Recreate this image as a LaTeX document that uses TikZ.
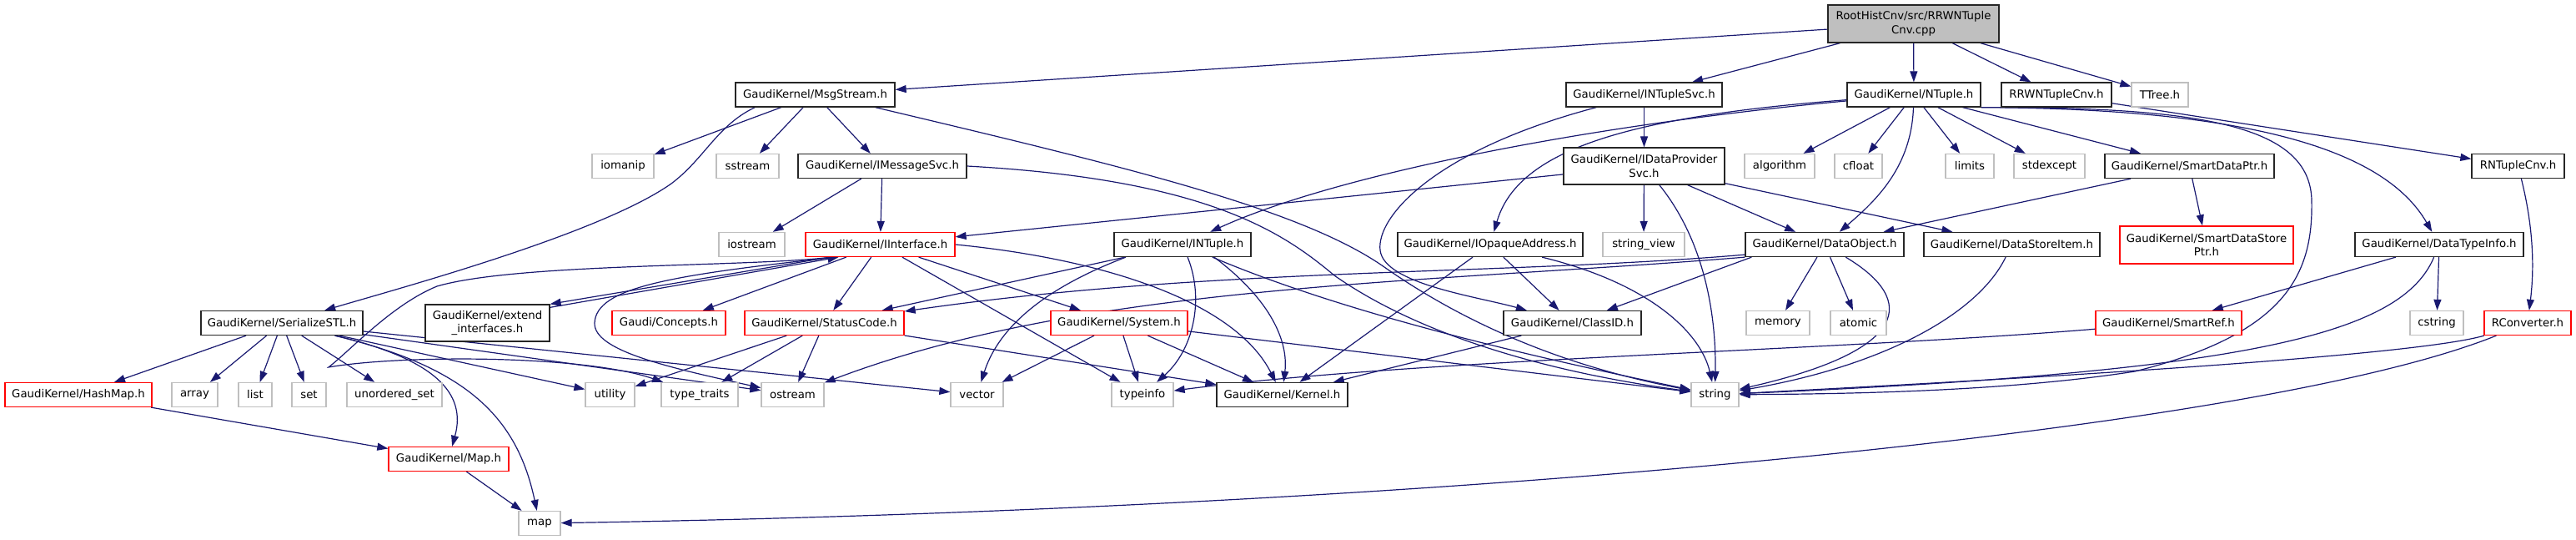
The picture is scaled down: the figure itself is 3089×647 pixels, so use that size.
\documentclass[tikz,border=0pt]{standalone}
\usepackage{fontspec}
\setmainfont{DejaVu Sans}
\usetikzlibrary{arrows.meta}
\definecolor{edgeblue}{HTML}{191970}
\definecolor{sysgray}{HTML}{BFBFBF}
\definecolor{truncred}{HTML}{FF0000}
\pgfdeclarelayer{bg}
\pgfsetlayers{bg,main}
\tikzset{
  nd/.style={draw, rectangle, fill=white, inner xsep=2pt, inner ysep=0pt,
    minimum height=29pt, align=center, line width=1.3pt,
    font=\fontsize{13.3}{16.6}\selectfont},
  doc/.style={nd, draw=black!85},
  sys/.style={nd, draw=sysgray},
  trunc/.style={nd, draw=truncred},
  rootnd/.style={nd, draw=black!85, fill=sysgray},
  dep/.style={draw=edgeblue, line width=1.2pt, -{Triangle[length=13pt,width=9pt]}},
}
\begin{document}
\begin{tikzpicture}[x=1pt,y=-1pt]
\useasboundingbox (0,0) rectangle (3089,647);
% row 0
\node[rootnd, minimum width=205pt, minimum height=45pt] (root) at (2294.5,28.5) {RootHistCnv/src/RRWNTuple\\Cnv.cpp};
% row 1
\node[doc, minimum width=191pt] (msgstream) at (977.5,113.5) {GaudiKernel/MsgStream.h};
\node[doc, minimum width=187pt] (ntuplesvc) at (1971.5,113.5) {GaudiKernel/INTupleSvc.h};
\node[doc, minimum width=160pt] (ntuple) at (2295,113.5) {GaudiKernel/NTuple.h};
\node[doc, minimum width=132pt] (rrwcnv) at (2466,113.5) {RRWNTupleCnv.h};
\node[sys, minimum width=68pt] (ttree) at (2590,113.5) {TTree.h};
% row 2
\node[sys, minimum width=74pt] (iomanip) at (747,199) {iomanip};
\node[sys, minimum width=75pt] (sstream) at (896.5,199) {sstream};
\node[doc, minimum width=202pt] (imsgsvc) at (1058,199) {GaudiKernel/IMessageSvc.h};
\node[doc, minimum width=193pt, minimum height=44pt] (idpsvc) at (1971.5,199) {GaudiKernel/IDataProvider\\Svc.h};
\node[sys, minimum width=84pt] (algorithm) at (2134,199) {algorithm};
\node[sys, minimum width=57pt] (cfloat) at (2228.5,199) {cfloat};
\node[sys, minimum width=58pt] (limits) at (2362,199) {limits};
\node[sys, minimum width=85pt] (stdexcept) at (2457.5,199) {stdexcept};
\node[doc, minimum width=203pt] (smartdataptr) at (2625.5,199) {GaudiKernel/SmartDataPtr.h};
\node[doc, minimum width=111pt] (rntuplecnv) at (3019.5,199) {RNTupleCnv.h};
% row 3
\node[sys, minimum width=79pt] (iostream) at (901.5,293) {iostream};
\node[trunc, minimum width=179pt] (iinterface) at (1055.5,293) {GaudiKernel/IInterface.h};
\node[doc, minimum width=164pt] (intuple) at (1418,293) {GaudiKernel/INTuple.h};
\node[doc, minimum width=222pt] (iopaque) at (1787,293) {GaudiKernel/IOpaqueAddress.h};
\node[sys, minimum width=98pt] (stringview) at (1971,293) {string\_view};
\node[doc, minimum width=190pt] (dataobject) at (2188,293) {GaudiKernel/DataObject.h};
\node[doc, minimum width=211pt] (datastoreitem) at (2412.5,293) {GaudiKernel/DataStoreItem.h};
\node[trunc, minimum width=208pt, minimum height=45pt] (smartdatastoreptr) at (2646,293.5) {GaudiKernel/SmartDataStore\\Ptr.h};
\node[doc, minimum width=202pt] (datatypeinfo) at (2925,293) {GaudiKernel/DataTypeInfo.h};
% row 4
\node[doc, minimum width=194pt] (serializestl) at (338,387) {GaudiKernel/SerializeSTL.h};
\node[doc, minimum width=149pt, minimum height=44pt] (extendif) at (584.5,387) {GaudiKernel/extend\\\_interfaces.h};
\node[trunc, minimum width=136pt] (concepts) at (802,387) {Gaudi/Concepts.h};
\node[trunc, minimum width=191pt] (statuscode) at (988.5,387) {GaudiKernel/StatusCode.h};
\node[trunc, minimum width=164pt] (system) at (1342,387) {GaudiKernel/System.h};
\node[doc, minimum width=165pt] (classid) at (1885.5,387) {GaudiKernel/ClassID.h};
\node[sys, minimum width=76pt] (memory) at (2132,387) {memory};
\node[sys, minimum width=67pt] (atomic) at (2228.5,387) {atomic};
\node[trunc, minimum width=175pt] (smartref) at (2600.5,387) {GaudiKernel/SmartRef.h};
\node[sys, minimum width=64pt] (cstring) at (2922,387) {cstring};
\node[trunc, minimum width=104pt] (rconverter) at (3031,387) {RConverter.h};
% row 5
\node[trunc, minimum width=176pt] (hashmap) at (94,473) {GaudiKernel/HashMap.h};
\node[sys, minimum width=55pt] (array) at (233.5,473) {array};
\node[sys, minimum width=40pt] (list) at (306,473) {list};
\node[sys, minimum width=41pt] (set) at (370.5,473) {set};
\node[sys, minimum width=114pt] (unorderedset) at (473,473) {unordered\_set};
\node[sys, minimum width=59pt] (utility) at (731.5,473) {utility};
\node[sys, minimum width=92pt] (typetraits) at (839,473) {type\_traits};
\node[sys, minimum width=75pt] (ostream) at (950.5,473) {ostream};
\node[sys, minimum width=63pt] (vector) at (1171.5,473) {vector};
\node[sys, minimum width=74pt] (typeinfo) at (1370,473) {typeinfo};
\node[doc, minimum width=157pt] (kernel) at (1537.5,473) {GaudiKernel/Kernel.h};
\node[sys, minimum width=57pt] (string) at (2056.5,473) {string};
% rows 6-7
\node[trunc, minimum width=144pt] (maph) at (538,550) {GaudiKernel/Map.h};
\node[sys, minimum width=50pt] (map) at (647,627) {map};

\begin{pgfonlayer}{bg}
% root
\draw[dep] (root) -- (msgstream);
\draw[dep] (root) -- (ntuplesvc);
\draw[dep] (root) -- (ntuple);
\draw[dep] (root) -- (rrwcnv);
\draw[dep] (root) -- (ttree);
% MsgStream
\draw[dep] (msgstream) -- (iomanip);
\draw[dep] (msgstream) -- (sstream);
\draw[dep] (msgstream) -- (imsgsvc);
\draw[dep] ([xshift=24pt]msgstream.south west) .. controls (860,150) and (845,190) .. (805,220) .. controls (720,280) and (480,345) .. (serializestl);
\draw[dep] ([xshift=-24pt]msgstream.south east) .. controls (1350,200) and (1560,250) .. (1660,320) .. controls (1760,390) and (1880,440) .. (string);
% IMessageSvc
\draw[dep] (imsgsvc) -- (iostream);
\draw[dep] (imsgsvc) -- (iinterface);
\draw[dep] (imsgsvc.east) .. controls (1450,215) and (1540,280) .. (1600,330) .. controls (1700,400) and (1850,445) .. (string);
% INTupleSvc
\draw[dep] (ntuplesvc) -- (idpsvc);
\draw[dep] (ntuplesvc) .. controls (1720,180) and (1650,260) .. (1655,300) .. controls (1660,340) and (1770,355) .. (classid);
% NTuple
\draw[dep] (ntuple) -- (algorithm);
\draw[dep] (ntuple) -- (cfloat);
\draw[dep] (ntuple) -- (limits);
\draw[dep] (ntuple) -- (stdexcept);
\draw[dep] (ntuple) -- (smartdataptr);
\draw[dep] (ntuple) .. controls (2292,200) and (2250,240) .. (dataobject);
\draw[dep] (ntuple) .. controls (1900,150) and (1600,210) .. (intuple);
\draw[dep] (ntuple) .. controls (1950,140) and (1820,180) .. (iopaque);
\draw[dep] (ntuple.south east) .. controls (2700,130) and (2860,180) .. (datatypeinfo);
\draw[dep] (ntuple.south east) .. controls (2640,128) and (2770,150) .. (2772,240) .. controls (2774,330) and (2740,400) .. (2560,445) .. controls (2400,470) and (2200,472) .. (string);
% RRWNTupleCnv, RNTupleCnv, RConverter
\draw[dep] (rrwcnv) -- (rntuplecnv);
\draw[dep] (rntuplecnv) .. controls (3040,280) and (3038,330) .. (rconverter);
\draw[dep] (rconverter) .. controls (2900,425) and (2500,450) .. (string);
\draw[dep] (rconverter) .. controls (2700,520) and (1700,610) .. (map);
% IDataProviderSvc
\draw[dep] (idpsvc) -- (iinterface);
\draw[dep] (idpsvc) -- (stringview);
\draw[dep] (idpsvc) .. controls (2045,290) and (2058,380) .. (string);
\draw[dep] (idpsvc) -- (dataobject);
\draw[dep] (idpsvc) -- (datastoreitem);
% SmartDataPtr
\draw[dep] (smartdataptr) -- (dataobject);
\draw[dep] (smartdataptr) -- (smartdatastoreptr);
% IInterface
\draw[dep] (iinterface) -- (concepts);
\draw[dep] (iinterface) -- (statuscode);
\draw[dep] (iinterface) -- (system);
\draw[dep] (iinterface) -- (typeinfo);
\draw[dep] (iinterface.east) .. controls (1320,310) and (1480,360) .. (kernel);
\draw[dep] ([xshift=-60pt]iinterface.south) -- (extendif.north east);
\draw[dep] ([yshift=-4pt]extendif.north east) -- ([xshift=-50pt]iinterface.south);
\draw[dep] ([xshift=-53pt]iinterface.south) .. controls (800,330) and (715,345) .. (713,387) .. controls (712,420) and (800,440) .. (ostream);
\draw[dep] ([xshift=-59pt]iinterface.south) .. controls (900,320) and (620,315) .. (524,343) .. controls (470,365) and (420,420) .. (394,440) .. controls (480,425) and (700,425) .. (typetraits);
% StatusCode
\draw[dep] (statuscode) -- (utility);
\draw[dep] (statuscode) -- (typetraits);
\draw[dep] (statuscode) -- (ostream);
\draw[dep] (statuscode) -- (kernel);
% System
\draw[dep] (system) -- (vector);
\draw[dep] (system) -- (typeinfo);
\draw[dep] (system) -- (kernel);
\draw[dep] (system) -- (string);
% INTuple
\draw[dep] (intuple) -- (statuscode);
\draw[dep] ([xshift=-68pt]intuple.south) .. controls (1240,350) and (1195,400) .. (vector);
\draw[dep] (intuple) .. controls (1445,360) and (1430,420) .. (typeinfo);
\draw[dep] ([xshift=38pt]intuple.south) .. controls (1525,360) and (1545,410) .. (kernel);
\draw[dep] (intuple) .. controls (1600,370) and (1800,420) .. (string);
% IOpaqueAddress
\draw[dep] (iopaque) -- (classid);
\draw[dep] (iopaque) -- (kernel);
\draw[dep] (iopaque) .. controls (1980,340) and (2040,400) .. (string);
% ClassID
\draw[dep] (classid) -- (kernel);
% DataObject
\draw[dep] (dataobject) -- (memory);
\draw[dep] (dataobject) -- (atomic);
\draw[dep] (dataobject) .. controls (2300,360) and (2290,420) .. (string);
\draw[dep] ([xshift=8pt]dataobject.south west) -- (classid);
\draw[dep] ([yshift=3pt]dataobject.south west) .. controls (1800,330) and (1450,320) .. (statuscode);
\draw[dep] (dataobject.south west) .. controls (1700,340) and (1300,340) .. (ostream);
% DataStoreItem
\draw[dep] (datastoreitem) .. controls (2370,380) and (2250,440) .. (string);
% DataTypeInfo
\draw[dep] (datatypeinfo) -- (smartref);
\draw[dep] (datatypeinfo) -- (cstring);
\draw[dep] (datatypeinfo) .. controls (2880,400) and (2700,445) .. (string);
% SmartRef
\draw[dep] (smartref) .. controls (2200,420) and (1700,430) .. (typeinfo);
% SerializeSTL
\draw[dep] (serializestl) -- (hashmap);
\draw[dep] (serializestl) -- (array);
\draw[dep] (serializestl) -- (list);
\draw[dep] (serializestl) -- (set);
\draw[dep] (serializestl) -- (unorderedset);
\draw[dep] (serializestl) -- (utility);
\draw[dep] (serializestl) .. controls (520,430) and (560,470) .. (maph);
\draw[dep] (serializestl) .. controls (560,440) and (620,500) .. (map);
\draw[dep] (serializestl) -- (ostream);
\draw[dep] (serializestl) -- (vector);
% HashMap, Map
\draw[dep] (hashmap) -- (maph);
\draw[dep] (maph) -- (map);
\end{pgfonlayer}
\end{tikzpicture}
\end{document}
